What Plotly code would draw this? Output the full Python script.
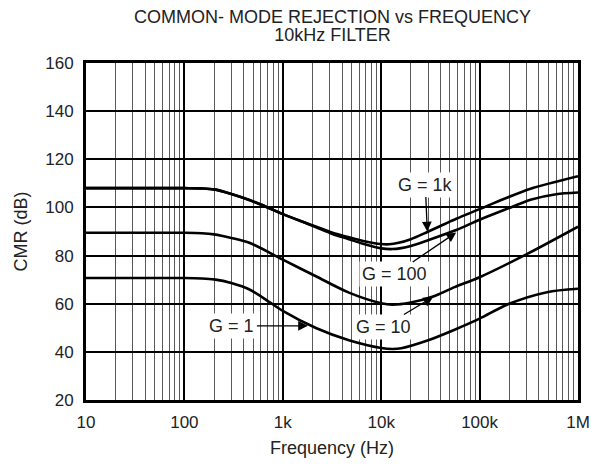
import math
import plotly.graph_objects as go

# Frequency points (Hz) and CMR (dB)
f_g1k = [10, 100, 150, 200, 300, 464, 700, 1000, 2000, 3200, 4700, 6400, 10000, 12000, 15000, 20000, 29400, 40000, 58000, 100000, 176000, 329000, 1000000]
cmr_g1k = [108, 108, 107.9, 107.5, 105.6, 103, 100, 97.2, 92.6, 89.5, 87.6, 86.2, 84.8, 84.7, 85.3, 86.8, 89.8, 92.3, 95.3, 99.3, 103.5, 107.8, 113]

f_g100 = [10, 100, 150, 200, 300, 464, 700, 1000, 2000, 3200, 4700, 6400, 10000, 13000, 16000, 20000, 30000, 58000, 100000, 207000, 329000, 600000, 1000000]
cmr_g100 = [108, 108, 107.9, 107.5, 105.6, 103, 100, 97.2, 92.4, 89.0, 86.8, 85.0, 83.0, 82.7, 83.1, 84.0, 86.4, 90.6, 94.9, 100, 103.2, 105.5, 106.2]

f_g10 = [10, 100, 150, 200, 300, 464, 1000, 2170, 4700, 10000, 13000, 20000, 33700, 55700, 100000, 305000, 1000000]
cmr_g10 = [89.5, 89.5, 89.3, 88.8, 87.3, 85.2, 78.3, 71.4, 64.6, 60.2, 59.6, 60.5, 63.0, 66.9, 71.0, 80.7, 92.0]

f_g1 = [10, 100, 150, 200, 300, 464, 738, 1000, 2170, 4700, 10000, 13000, 16000, 30000, 55700, 100000, 192000, 484000, 1000000]
cmr_g1 = [70.7, 70.7, 70.5, 70.1, 68.6, 65.8, 60.6, 57.0, 49.9, 44.8, 41.6, 41.2, 41.5, 44.8, 49.2, 53.8, 59.7, 64.8, 66.2]

x_tickvals = [10, 100, 1000, 10000, 100000, 1000000]
x_ticktext = ["10", "100", "1k", "10k", "100k", "1M"]
y_tickvals = [20, 40, 60, 80, 100, 120, 140, 160]

title_lines = ["COMMON- MODE REJECTION vs FREQUENCY", "10kHz FILTER"]

# label text, arrow head (freq, dB), text offset (px)
labels = ["G = 1k", "G = 100", "G = 10", "G = 1"]
label_heads = [(29400, 90.0), (57900, 89.6), (33700, 62.8), (1800, 50.8)]
label_offsets = [(-2, -47), (-62, 42), (-50, 30), (-76, 0)]

FONT = "Liberation Sans, Arial, sans-serif"
TXT = "#222222"

fig = go.Figure()
for fx, fy in [(f_g1k, cmr_g1k), (f_g100, cmr_g100), (f_g10, cmr_g10), (f_g1, cmr_g1)]:
    fig.add_trace(go.Scatter(x=fx, y=fy, mode="lines",
                             line=dict(color="black", width=2.6, shape="spline", smoothing=0.8),
                             showlegend=False, hoverinfo="skip"))

for txt, (hx, hy), (ax, ay) in zip(labels, label_heads, label_offsets):
    fig.add_annotation(x=math.log10(hx), y=hy, xref="x", yref="y", text=txt,
                       showarrow=True, ax=ax, ay=ay, axref="pixel", ayref="pixel",
                       arrowhead=2, arrowsize=1.5, arrowwidth=1.3, arrowcolor="black",
                       bgcolor="white", borderpad=2,
                       font=dict(family=FONT, size=18, color=TXT))

# two-line title as one text; small base size gives the tight line spacing, spans set 18px glyphs
title_text = "<br>".join("<span style='font-size:18px'>%s</span>" % t for t in title_lines)
fig.add_annotation(x=0.5, y=1.1098, xref="paper", yref="paper", text=title_text,
                   showarrow=False, xanchor="center", yanchor="middle", borderpad=0,
                   font=dict(family=FONT, size=14, color=TXT))

fig.update_layout(
    width=598, height=460,
    margin=dict(l=73, r=28, t=55, b=68),
    paper_bgcolor="white", plot_bgcolor="white",
    font=dict(family=FONT, size=17, color=TXT),
)

fig.update_xaxes(type="log", range=[1, 6],
                 tickvals=x_tickvals, ticktext=x_ticktext,
                 showgrid=True, gridcolor="black", gridwidth=2,
                 minor=dict(dtick="D1", showgrid=True, gridcolor="#5a5a5a", gridwidth=1, ticks=""),
                 showline=True, linecolor="black", linewidth=3, mirror=True,
                 ticks="", zeroline=False, ticklabelstandoff=5,
                 tickfont=dict(family=FONT, size=17, color=TXT),
                 title=dict(text="Frequency (Hz)", font=dict(family=FONT, size=18, color=TXT), standoff=10))

fig.update_yaxes(range=[20, 160], tickvals=y_tickvals,
                 showgrid=True, gridcolor="black", gridwidth=2,
                 showline=True, linecolor="black", linewidth=3, mirror=True,
                 ticks="", zeroline=False, ticklabelstandoff=6,
                 tickfont=dict(family=FONT, size=17, color=TXT),
                 title=dict(text="CMR (dB)", font=dict(family=FONT, size=18, color=TXT), standoff=13))

fig.write_html("out.html")
